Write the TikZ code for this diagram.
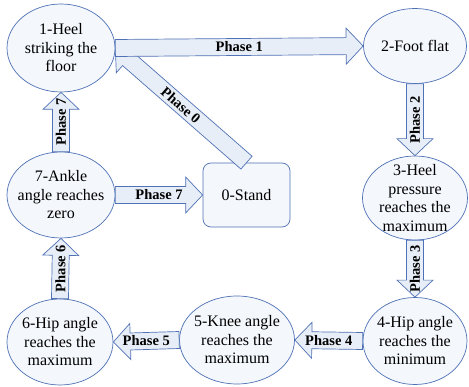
\documentclass[tikz,border=0pt]{standalone}
\usepackage{fontspec}
\setmainfont{Liberation Serif}
\usetikzlibrary{shapes.geometric,calc}
\definecolor{edgeblue}{RGB}{79,113,181}
\definecolor{ovalfill}{RGB}{244,247,252}
\definecolor{arrowfill}{RGB}{232,238,247}
\tikzset{
  gaitevent/.style={ellipse, draw=edgeblue, line width=0.7pt, fill=ovalfill,
    inner sep=-10pt, align=center, font=\fontsize{16}{18.5}\selectfont},
  standbox/.style={rectangle, rounded corners=8pt, draw=edgeblue, line width=0.7pt,
    fill=ovalfill, minimum width=87pt, minimum height=64pt,
    font=\fontsize{16}{18.5}\selectfont},
  phasearrow/.style={draw=edgeblue, line width=0.7pt, fill=arrowfill,
    to path={let \p1=($(\tikztotarget)!17pt!(\tikztostart)$),
      \p2=($(\tikztostart)!0.5!(\tikztotarget)$) in
      ($(\tikztostart)!8.5pt!90:(\tikztotarget)$)
      -- ($(\p1)!8.5pt!90:(\tikztotarget)$)
      -- ($(\p1)!18pt!90:(\tikztotarget)$)
      -- (\tikztotarget)
      -- ($(\p1)!18pt!-90:(\tikztotarget)$)
      -- ($(\p1)!8.5pt!-90:(\tikztotarget)$)
      -- ($(\tikztostart)!8.5pt!-90:(\tikztotarget)$)
      -- cycle
      (\p2) -- (\p2) \tikztonodes}},
  phaselabel/.style={font=\fontsize{14.5}{16}\selectfont\bfseries, inner sep=0pt}
}
\begin{document}
\begin{tikzpicture}[x=1pt,y=-1pt]
\useasboundingbox (0,0) rectangle (469,387);
% gait events
\node [gaitevent, minimum width=108pt, minimum height=88pt] (heel) at (61,48) {1-Heel\\striking the\\floor};
\node [gaitevent, minimum width=103pt, minimum height=75pt] (flat) at (415,46) {2-Foot flat};
\node [gaitevent, minimum width=105pt, minimum height=84pt] (press) at (415,198) {3-Heel\\pressure\\reaches the\\maximum};
\node [gaitevent, minimum width=104pt, minimum height=87pt] (hipmin) at (415,341) {4-Hip angle\\reaches the\\minimum};
\node [gaitevent, minimum width=115pt, minimum height=88pt] (knee) at (237,340) {5-Knee angle\\reaches the\\maximum};
\node [gaitevent, minimum width=106pt, minimum height=86pt] (hipmax) at (60,342) {6-Hip angle\\reaches the\\maximum};
\node [gaitevent, minimum width=108pt, minimum height=86pt] (ankle) at (61,195) {7-Ankle\\angle reaches\\zero};
\node [standbox] (stand) at (246.5,195) {0-Stand};
% phases
\draw [phasearrow] (stand.north) to node [phaselabel, rotate=-41] {Phase 0} (heel.east);
\draw [phasearrow] (heel.east) to node [phaselabel] {Phase 1} (flat.west);
\draw [phasearrow] (flat.south) to node [phaselabel, rotate=90] {Phase 2} (press.north);
\draw [phasearrow] (press.south) to node [phaselabel, rotate=90] {Phase 3} (hipmin.north);
\draw [phasearrow] (hipmin.west) to node [phaselabel] {Phase 4} (knee.east);
\draw [phasearrow] (knee.west) to node [phaselabel] {Phase 5} (hipmax.east);
\draw [phasearrow] (hipmax.north) to node [phaselabel, rotate=90] {Phase 6} (ankle.south);
\draw [phasearrow] (ankle.north) to node [phaselabel, rotate=90] {Phase 7} (heel.south);
\draw [phasearrow] (ankle.east) to node [phaselabel] {Phase 7} (stand.west);
\end{tikzpicture}
\end{document}
